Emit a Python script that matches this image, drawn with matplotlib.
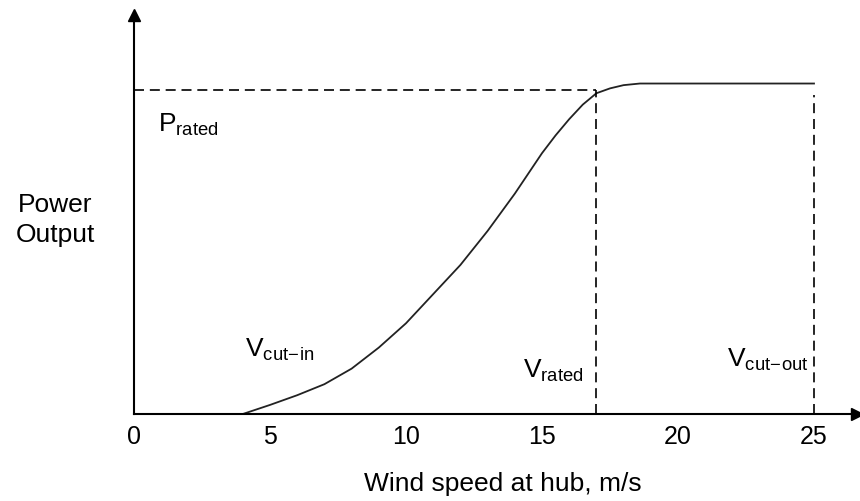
import numpy as np
import matplotlib
matplotlib.use("Agg")
import matplotlib.pyplot as plt

plt.rcParams['font.family'] = ['Liberation Sans', 'DejaVu Sans']
plt.rcParams['mathtext.fontset'] = 'custom'
plt.rcParams['mathtext.rm'] = 'Liberation Sans'
plt.rcParams['mathtext.it'] = 'Liberation Sans'

# power curve (power normalised so P_rated = 1)
wind = [4.0, 5.0, 6.0, 7.0, 8.0, 9.0, 10.0, 11.0, 12.0, 13.0, 14.0, 15.0,
        15.5, 16.0, 16.5, 17.0, 17.5, 18.0, 18.6, 25.0]
power = [0.0, 0.028, 0.058, 0.092, 0.14, 0.205, 0.28, 0.37, 0.46, 0.565, 0.68, 0.805,
         0.86, 0.91, 0.955, 0.99, 1.005, 1.015, 1.02, 1.02]
xticks = [0, 5, 10, 15, 20, 25]
v_cut_in = 4
v_rated = 17
v_cut_out = 25
p_rated = 1.0

fig = plt.figure(figsize=(8.6, 5.01), dpi=100)
W, H = 860, 501
x0, y0, x1, y1 = 134, 414, 857, 15
ax = fig.add_axes([x0 / W, 1 - y0 / H, (x1 - x0) / W, (y0 - y1) / H])
ax.set_xlim(0, (x1 - x0) / 27.2)
ax.set_ylim(0, (y0 - y1) / 324)

for s in ['top', 'right']:
    ax.spines[s].set_visible(False)
for s in ['left', 'bottom']:
    ax.spines[s].set_linewidth(1.5)
ax.plot(1, 0, '>k', ms=8, transform=ax.transAxes, clip_on=False)
ax.plot(0, 1, '^k', ms=8, transform=ax.transAxes, clip_on=False)

ax.plot(wind, power, color='#222222', lw=1.3)

dash = (0, (6, 3.5))
ax.plot([0, v_rated], [p_rated, p_rated], color='k', lw=1.2, ls=dash)
ax.plot([v_rated, v_rated], [0, p_rated], color='k', lw=1.2, ls=dash)
ax.plot([v_cut_out, v_cut_out], [0, 0.985], color='k', lw=1.2, ls=dash)

ax.set_xticks(xticks)
ax.set_xticklabels([str(t) for t in xticks], fontsize=18)
ax.tick_params(axis='x', length=0, pad=8)
ax.set_yticks([])

fs = 19
ax.text(0.88, 0.87, r'P$_\mathrm{rated}$', fontsize=fs, va='baseline', ha='left')
ax.text(4.08, 0.176, r'V$_\mathrm{cut\!-\!in}$', fontsize=fs, va='baseline', ha='left')
ax.text(14.3, 0.111, r'V$_\mathrm{rated}$', fontsize=fs, va='baseline', ha='left')
ax.text(21.8, 0.145, r'V$_\mathrm{cut\!-\!out}$', fontsize=fs, va='baseline', ha='left')

fig.text(55 / W, 1 - 220 / H, 'Power\nOutput', fontsize=19, ha='center', va='center',
         linespacing=1.3)
fig.text(503 / W, 1 - 484 / H, 'Wind speed at hub, m/s', fontsize=19, ha='center', va='center')

fig.savefig('out.png', dpi=100)
